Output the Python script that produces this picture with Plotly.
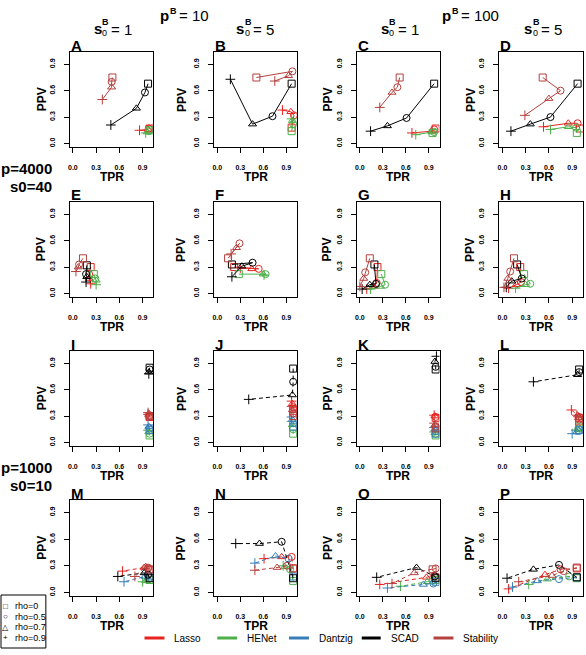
import plotly.graph_objects as go

W, H = 586, 655
FONT = "Liberation Sans, Arial, sans-serif"

methods = ["Lasso", "HENet", "Dantzig", "SCAD", "Stability"]
colors = ["#E8221E", "#4DAF4A", "#377EB8", "#000000", "#B5403D"]
rho_labels = ["rho=0", "rho=0.5", "rho=0.7", "rho=0.9"]
rho_glyphs = ["\u25a1", "\u25cb", "\u25b3", "+"]
symbols = ["square-open", "circle-open", "triangle-up-open", "cross-thin-open"]
tick_vals = [0.0, 0.3, 0.6, 0.9]
tick_text = ["0.0", "0.3", "0.6", "0.9"]
letters = list("ABCDEFGHIJKLMNOP")

# each panel: rows = [Lasso, HENet, Dantzig, SCAD, Stability], columns = rho 0, 0.5, 0.7, 0.9
N4 = [None, None, None, None]
TPR_A = [[0.99, 0.98, 0.97, 0.86], [0.99, 0.98, 0.96, 0.94], N4, [0.97, 0.93, 0.82, 0.49], [0.51, 0.50, 0.50, 0.38]]
PPV_A = [[0.17, 0.17, 0.16, 0.15], [0.15, 0.14, 0.13, 0.12], N4, [0.68, 0.58, 0.40, 0.21], [0.75, 0.70, 0.64, 0.50]]
TPR_B = [[0.97, 1.00, 0.96, 0.85], [0.97, 0.99, 0.98, 0.97], N4, [0.97, 0.72, 0.46, 0.17], [0.51, 0.98, 0.93, 0.75]]
PPV_B = [[0.18, 0.32, 0.36, 0.38], [0.14, 0.22, 0.26, 0.28], N4, [0.68, 0.31, 0.22, 0.73], [0.75, 0.82, 0.77, 0.71]]
TPR_C = [[0.99, 0.97, 0.94, 0.68], [0.95, 0.97, 0.94, 0.73], N4, [0.97, 0.61, 0.36, 0.14], [0.52, 0.49, 0.42, 0.26]]
PPV_C = [[0.17, 0.16, 0.14, 0.12], [0.12, 0.13, 0.13, 0.10], N4, [0.68, 0.29, 0.20, 0.14], [0.75, 0.64, 0.58, 0.41]]
TPR_D = [[1.00, 0.97, 0.85, 0.53], [0.96, 0.95, 0.85, 0.62], N4, [0.97, 0.62, 0.36, 0.11], [0.52, 0.75, 0.60, 0.29]]
PPV_D = [[0.17, 0.23, 0.23, 0.19], [0.12, 0.18, 0.19, 0.16], N4, [0.68, 0.30, 0.22, 0.14], [0.75, 0.60, 0.51, 0.32]]
TPR_E = [[0.23, 0.21, 0.21, 0.23], [0.27, 0.29, 0.30, 0.30], N4, [0.18, 0.17, 0.18, 0.17], [0.13, 0.08, 0.07, 0.04]]
PPV_E = [[0.30, 0.22, 0.17, 0.11], [0.22, 0.17, 0.15, 0.10], N4, [0.32, 0.22, 0.19, 0.13], [0.40, 0.33, 0.30, 0.25]]
TPR_F = [[0.22, 0.54, 0.45, 0.30], [0.28, 0.63, 0.60, 0.61], N4, [0.19, 0.46, 0.32, 0.19], [0.14, 0.29, 0.25, 0.18]]
PPV_F = [[0.30, 0.28, 0.28, 0.29], [0.22, 0.22, 0.22, 0.21], N4, [0.33, 0.35, 0.31, 0.19], [0.40, 0.57, 0.52, 0.45]]
TPR_G = [[0.23, 0.22, 0.18, 0.09], [0.28, 0.33, 0.27, 0.14], N4, [0.19, 0.21, 0.13, 0.03], [0.13, 0.07, 0.05, 0.00]]
PPV_G = [[0.30, 0.12, 0.08, 0.05], [0.22, 0.10, 0.08, 0.05], N4, [0.33, 0.11, 0.10, 0.05], [0.40, 0.24, 0.17, 0.08]]
TPR_H = [[0.23, 0.24, 0.18, 0.08], [0.28, 0.36, 0.30, 0.17], N4, [0.19, 0.25, 0.12, 0.05], [0.15, 0.10, 0.07, 0.02]]
PPV_H = [[0.30, 0.13, 0.10, 0.06], [0.22, 0.11, 0.10, 0.06], N4, [0.33, 0.17, 0.14, 0.07], [0.40, 0.25, 0.17, 0.07]]
TPR_I = [[0.99, 0.99, 0.98, 0.97], [0.99, 0.99, 0.98, 0.97], [0.99, 0.99, 0.98, 0.97], [0.99, 0.99, 0.98, 0.98], [0.99, 0.99, 0.98, 0.97]]
PPV_I = [[0.29, 0.30, 0.31, 0.32], [0.08, 0.10, 0.12, 0.14], [0.14, 0.16, 0.18, 0.20], [0.85, 0.83, 0.80, 0.78], [0.30, 0.31, 0.33, 0.34]]
TPR_J = [[0.99, 0.99, 0.98, 0.97], [0.99, 0.99, 0.98, 0.97], [0.99, 0.99, 0.98, 0.97], [0.99, 0.99, 0.98, 0.41], [0.99, 0.99, 0.98, 0.97]]
PPV_J = [[0.36, 0.40, 0.44, 0.47], [0.10, 0.15, 0.20, 0.24], [0.18, 0.22, 0.26, 0.29], [0.84, 0.69, 0.54, 0.49], [0.30, 0.33, 0.37, 0.41]]
TPR_K = [[0.99, 0.99, 0.98, 0.97], [0.99, 0.99, 0.98, 0.97], [0.99, 0.99, 0.98, 0.97], [0.99, 0.99, 0.98, 1.00], [0.99, 0.99, 0.98, 0.97]]
PPV_K = [[0.28, 0.29, 0.30, 0.31], [0.08, 0.10, 0.11, 0.12], [0.10, 0.13, 0.15, 0.17], [0.83, 0.86, 0.92, 0.98], [0.16, 0.18, 0.20, 0.22]]
TPR_L = [[0.99, 0.99, 0.97, 0.89], [0.99, 0.98, 0.97, 0.95], [0.99, 0.98, 0.96, 0.90], [0.99, 0.99, 0.97, 0.40], [0.99, 0.99, 0.98, 0.96]]
PPV_L = [[0.28, 0.29, 0.31, 0.37], [0.18, 0.16, 0.15, 0.14], [0.14, 0.13, 0.12, 0.10], [0.83, 0.80, 0.77, 0.69], [0.24, 0.26, 0.28, 0.31]]
TPR_M = [[0.99, 0.97, 0.92, 0.64], [0.99, 0.97, 0.94, 0.90], [0.99, 0.97, 0.93, 0.66], [0.99, 0.97, 0.92, 0.58], [0.99, 0.97, 0.94, 0.80]]
PPV_M = [[0.25, 0.27, 0.28, 0.24], [0.14, 0.14, 0.13, 0.12], [0.18, 0.19, 0.18, 0.12], [0.16, 0.20, 0.22, 0.18], [0.26, 0.28, 0.29, 0.18]]
TPR_N = [[0.99, 0.97, 0.84, 0.61], [0.99, 0.95, 0.88, 0.86], [0.99, 0.93, 0.76, 0.49], [0.99, 0.84, 0.55, 0.24], [0.99, 0.91, 0.78, 0.49]]
PPV_N = [[0.27, 0.40, 0.40, 0.38], [0.13, 0.26, 0.29, 0.30], [0.18, 0.38, 0.41, 0.33], [0.16, 0.57, 0.55, 0.55], [0.27, 0.30, 0.28, 0.25]]
TPR_O = [[0.99, 0.97, 0.87, 0.26], [0.99, 0.95, 0.88, 0.53], [0.99, 0.96, 0.83, 0.36], [0.99, 0.98, 0.74, 0.22], [0.95, 0.99, 0.71, 0.42]]
PPV_O = [[0.17, 0.19, 0.17, 0.09], [0.14, 0.13, 0.12, 0.07], [0.12, 0.10, 0.09, 0.05], [0.16, 0.18, 0.28, 0.17], [0.26, 0.27, 0.22, 0.10]]
TPR_P = [[0.96, 0.75, 0.55, 0.08], [0.96, 0.86, 0.58, 0.34], [0.96, 0.73, 0.45, 0.13], [0.96, 0.73, 0.40, 0.06], [0.96, 0.79, 0.64, 0.21]]
PPV_P = [[0.27, 0.26, 0.20, 0.04], [0.16, 0.18, 0.15, 0.09], [0.17, 0.15, 0.13, 0.06], [0.17, 0.31, 0.26, 0.16], [0.28, 0.24, 0.19, 0.12]]

TPR = [TPR_A, TPR_B, TPR_C, TPR_D, TPR_E, TPR_F, TPR_G, TPR_H,
       TPR_I, TPR_J, TPR_K, TPR_L, TPR_M, TPR_N, TPR_O, TPR_P]
PPV = [PPV_A, PPV_B, PPV_C, PPV_D, PPV_E, PPV_F, PPV_G, PPV_H,
       PPV_I, PPV_J, PPV_K, PPV_L, PPV_M, PPV_N, PPV_O, PPV_P]

# layout in pixels
col_px = [(68, 152), (213, 296), (356, 439), (499, 583)]
row_px = [(52, 147), (202, 297), (351, 446), (500, 596)]
ppv_x = [40, 180, 327, 470]


def fx(px):
    return px / W


def fy(py):
    return 1 - py / H


fig = go.Figure()
annotations = []
shapes = []

for k in range(16):
    r, c = divmod(k, 4)
    ax = "" if k == 0 else str(k + 1)
    dash = "solid" if r < 2 else "4px,3px"
    for m in range(5):
        xs, ys = TPR[k][m], PPV[k][m]
        if xs[0] is None:
            continue
        fig.add_trace(go.Scatter(
            x=xs, y=ys, mode="lines+markers", xaxis="x" + ax, yaxis="y" + ax,
            line=dict(color=colors[m], width=1, dash=dash),
            marker=dict(symbol=symbols, size=7, color=colors[m],
                        line=dict(color=colors[m], width=1)),
            showlegend=False, hoverinfo="skip"))
    L, R = col_px[c]
    T, B = row_px[r]
    axcommon = dict(range=[-0.04, 1.04], tickvals=tick_vals, ticktext=tick_text,
                    ticks="outside", ticklen=5, tickwidth=1, tickcolor="black",
                    showline=True, mirror=True, linecolor="black", linewidth=1.3,
                    showgrid=False, zeroline=False,
                    tickfont=dict(family=FONT, size=7, color="black", weight="bold"))
    fig.update_layout(**{
        "xaxis" + ax: dict(domain=[fx(L), fx(R)], anchor="y" + ax,
                           ticklabelstandoff=8, **axcommon),
        "yaxis" + ax: dict(domain=[fy(B), fy(T)], anchor="x" + ax,
                           tickangle=-90, ticklabelstandoff=6, **axcommon),
    })
    # panel letter
    annotations.append(dict(x=fx(L - 1), y=fy(T - 7), xref="paper", yref="paper",
                            text="<b>%s</b>" % letters[k], showarrow=False,
                            xanchor="left", yanchor="middle",
                            font=dict(family=FONT, size=15, color="black")))
    # axis titles
    annotations.append(dict(x=fx((L + R) / 2), y=fy(B + 30), xref="paper", yref="paper",
                            text="<b>TPR</b>", showarrow=False,
                            xanchor="center", yanchor="middle",
                            font=dict(family=FONT, size=12, color="black")))
    annotations.append(dict(x=fx(ppv_x[c]), y=fy((T + B) / 2), xref="paper", yref="paper",
                            text="<b>PPV</b>", showarrow=False, textangle=-90,
                            xanchor="center", yanchor="middle",
                            font=dict(family=FONT, size=12, color="black")))


def txt(x, y, text, size, xanchor="left", yanchor="middle"):
    annotations.append(dict(x=fx(x), y=fy(y), xref="paper", yref="paper", text=text,
                            showarrow=False, xanchor=xanchor, yanchor=yanchor,
                            font=dict(family=FONT, size=size, color="black")))


# column headings
for px_p, val in [(157, "10"), (440, "100")]:
    txt(px_p, 15, "<b>p</b>", 15)
    txt(px_p + 9.5, 11, "<b>B</b>", 9)
    txt(px_p + 19, 16, "= " + val, 15)
for px_s, val in [(90, "1"), (233, "5"), (378, "1"), (522, "5")]:
    txt(px_s, 28, "<b>s</b>", 15)
    txt(px_s + 8.5, 21.5, "<b>B</b>", 9)
    txt(px_s + 8.5, 33.5, "0", 9)
    txt(px_s + 17, 29, "= " + val, 15)

# row labels
txt(52, 168, "<b>p=4000</b>", 15, xanchor="right")
txt(52, 186, "<b>s0=40</b>", 15, xanchor="right")
txt(52, 467, "<b>p=1000</b>", 15, xanchor="right")
txt(52, 485, "<b>s0=10</b>", 15, xanchor="right")

# rho legend
shapes.append(dict(type="rect", xref="paper", yref="paper",
                   x0=fx(-1), x1=fx(44), y0=fy(648), y1=fy(595),
                   line=dict(color="black", width=1)))
for i in range(4):
    yy = 606 + i * 10.6
    txt(4, yy, rho_glyphs[i], 8, xanchor="center")
    txt(11, yy, rho_labels[i], 9)

# method legend
leg_seg = [(143, 163), (216, 236), (288, 308), (361, 380), (433, 453)]
for m in range(5):
    a, b = leg_seg[m]
    shapes.append(dict(type="line", xref="paper", yref="paper",
                       x0=fx(a), x1=fx(b), y0=fy(638), y1=fy(638),
                       line=dict(color=colors[m], width=3)))
    txt(b + 8, 638, methods[m], 10)

fig.update_layout(width=W, height=H, margin=dict(l=0, r=0, t=0, b=0),
                  paper_bgcolor="white", plot_bgcolor="white",
                  annotations=annotations, shapes=shapes, showlegend=False,
                  font=dict(family=FONT))
fig.write_html("out.html")
